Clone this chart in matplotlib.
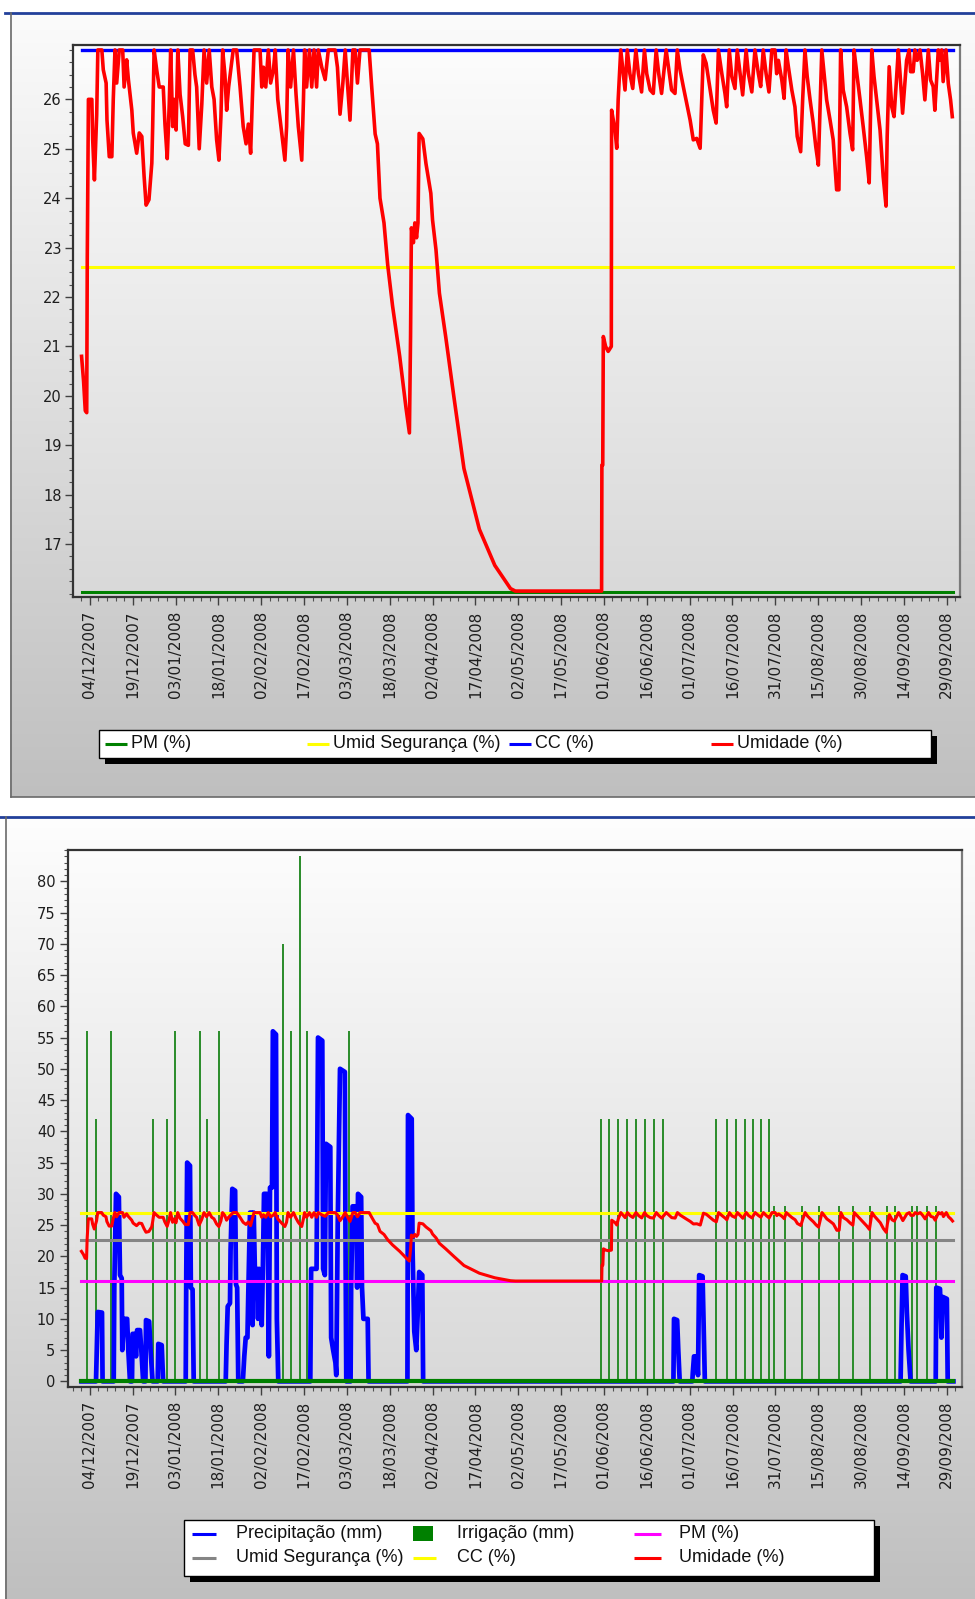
import matplotlib

matplotlib.use("Agg")
import matplotlib.pyplot as plt
import numpy as np
import pandas as pd
from matplotlib.patches import Rectangle
from matplotlib.ticker import FixedFormatter, FixedLocator, MultipleLocator

W, H = 975, 1599
START = pd.Timestamp("2007-12-04")

# dias contados a partir de 04/12/2007
SERIES_START, SERIES_END = -2.9, 302.3

umid_days = [
    -2.9, -2.2, -1.6, -1.1, -0.9, -0.5, 0.7, 1.0, 1.6, 2.4, 2.8, 4.2, 4.7, 5.7, 6.0, 6.8, 7.7,
    8.2, 8.8, 9.4, 10.3, 11.5, 12.0, 12.9, 13.5, 14.7, 15.2, 16.4, 17.3, 18.2, 19.0, 19.7,
    20.7, 21.7, 22.0, 22.5, 23.4, 24.3, 25.7, 26.3, 27.1, 27.8, 28.3, 29.0, 29.6, 30.2, 30.8,
    31.6, 32.5, 33.4, 34.5, 35.1, 36.0, 36.8, 37.4, 38.3, 39.2, 40.0, 40.9, 41.8, 42.7, 43.5,
    44.4, 45.2, 45.9, 46.5, 47.3, 47.9, 48.6, 50.2, 51.4, 52.6, 53.7, 54.7, 55.5, 56.3, 56.9,
    57.5, 59.6, 60.2, 60.8, 61.6, 62.5, 63.3, 64.3, 64.9, 65.8, 67.2, 68.3, 68.9, 69.4, 70.3,
    71.3, 72.2, 73.0, 74.2, 74.8, 75.2, 75.9, 76.9, 77.7, 78.5, 79.4, 80.0, 81.2, 82.4, 83.5,
    85.9, 86.7, 87.6, 88.6, 89.4, 90.2, 91.1, 92.1, 92.9, 93.7, 94.6, 97.8, 98.7, 99.9, 100.7,
    101.6, 103.0, 104.3, 106.0, 108.5, 110.7, 111.9, 112.3, 112.6, 113.3, 113.8, 114.4, 114.9,
    115.3, 116.6, 117.7, 119.4, 120.0, 121.2, 122.4, 124.6, 127.5, 131.0, 136.4, 141.8, 147.3,
    149.0, 179.2, 179.3, 179.6, 179.8, 180.6, 181.5, 182.6, 182.7, 183.9, 184.5, 185.0, 185.9,
    186.8, 187.4, 188.2, 189.1, 190.1, 191.2, 192.1, 193.2, 194.2, 195.0, 196.2, 197.3, 198.3,
    199.2, 200.2, 201.8, 202.6, 203.7, 204.9, 205.7, 206.7, 207.8, 209.0, 210.2, 211.3, 212.5,
    213.7, 214.8, 215.8, 217.2, 218.3, 219.3, 220.1, 221.3, 222.4, 223.0, 223.9, 224.8, 225.9,
    226.7, 227.7, 228.6, 229.8, 230.6, 231.8, 232.9, 234.1, 234.9, 235.8, 236.8, 237.8, 238.8,
    239.9, 240.5, 241.1, 242.3, 243.1, 243.8, 244.6, 245.8, 246.9, 247.7, 248.9, 249.6, 250.4,
    251.2, 252.2, 253.3, 254.2, 255.1, 255.7, 256.3, 257.1, 258.0, 259.2, 260.3, 261.5, 262.3,
    262.9, 263.8, 265.0, 266.2, 267.1, 267.6, 268.7, 269.7, 270.8, 272.0, 272.9, 273.8, 274.6,
    275.5, 276.7, 277.8, 278.8, 279.2, 279.9, 280.8, 281.6, 282.3, 283.1, 283.7, 284.6, 285.4,
    286.0, 286.9, 287.4, 288.3, 288.9, 289.7, 290.7, 291.6, 292.4, 293.6, 294.4, 295.3, 295.9,
    297.1, 297.7, 298.3, 298.8, 299.8, 300.6, 301.4, 302.0,
]
umid_vals = [
    20.8, 20.3, 19.7, 19.66, 22.8, 26.0, 26.0, 25.18, 24.37, 25.7, 27.0, 27.0, 26.6, 26.33, 25.58, 24.84, 24.84,
    26.0, 27.0, 26.33, 27.0, 27.0, 26.25, 26.8, 26.4, 25.78, 25.32, 24.91, 25.32, 25.25, 24.44, 23.86,
    23.97, 24.71, 25.45, 27.0, 26.6, 26.25, 26.25, 25.5, 24.8, 25.9, 27.0, 25.45, 26.0, 25.38, 27.0,
    26.1, 25.65, 25.1, 25.07, 27.0, 27.0, 26.5, 26.25, 25.0, 25.9, 27.0, 26.33, 27.0, 26.25, 26.0,
    25.18, 24.77, 25.65, 27.0, 26.5, 25.78, 26.25, 27.0, 27.0, 26.25, 25.45, 25.1, 25.5, 24.91, 26.0,
    27.0, 27.0, 26.25, 26.65, 26.25, 27.0, 26.33, 26.6, 27.0, 26.0, 25.32, 24.77, 25.45, 27.0, 26.25,
    27.0, 26.1, 25.45, 24.77, 26.0, 27.0, 26.25, 27.0, 26.25, 27.0, 26.25, 27.0, 26.65, 26.4, 27.0,
    27.0, 26.65, 25.7, 26.33, 27.0, 26.33, 25.58, 27.0, 27.0, 26.33, 27.0, 27.0, 26.25, 25.3, 25.1,
    24.0, 23.5, 22.65, 21.82, 20.8, 19.76, 19.25, 21.2, 23.4, 23.1, 23.5, 23.2, 23.5,
    25.31, 25.2, 24.7, 24.1, 23.56, 22.96, 22.08, 21.2, 19.97, 18.53, 17.3, 16.57, 16.1,
    16.05, 16.05, 18.6, 18.6, 21.2, 21.0, 20.9, 21.0, 25.78, 25.38, 25.01, 25.99, 27.0,
    26.52, 26.19, 27.0, 26.52, 26.22, 27.0, 26.52, 26.15, 27.0, 26.52, 26.19, 26.12, 27.0,
    26.52, 26.12, 27.0, 26.66, 26.19, 26.12, 27.0, 26.59, 26.26, 25.92, 25.58, 25.18, 25.21,
    25.01, 26.9, 26.73, 26.19, 25.78, 25.52, 27.0, 26.52, 26.12, 25.85, 27.0, 26.46, 26.22,
    27.0, 26.52, 26.09, 27.0, 26.52, 26.15, 27.0, 26.52, 26.26, 27.0, 26.52, 26.15, 27.0,
    27.0, 26.52, 26.79, 26.39, 26.02, 27.0, 26.66, 26.19, 25.85, 25.25, 24.94, 25.99, 27.0,
    26.46, 25.99, 25.52, 25.04, 24.67, 25.85, 27.0, 26.52, 25.99, 25.58, 25.18, 24.17, 24.17,
    27.0, 26.19, 25.85, 25.31, 24.98, 27.0, 26.46, 25.99, 25.45, 24.84, 24.31, 27.0, 26.46,
    25.99, 25.38, 24.44, 23.84, 25.25, 26.66, 25.85, 25.65, 26.26, 27.0, 26.52, 25.72, 26.32,
    26.79, 27.0, 26.56, 26.56, 27.0, 26.79, 27.0, 26.52, 25.99, 27.0, 26.39, 26.26, 25.78,
    27.0, 26.79, 27.0, 26.36, 27.0, 26.32, 25.99, 25.65,
]

CC_VAL = 27.0
SEGURANCA_VAL = 22.6
PM_VAL = 16.03

prec_days = [
    -2.9, 2.2, 2.5, 2.8, 4.3, 4.5,
    8.4, 8.6, 9.2, 10.2, 10.6, 11.2, 11.4, 12.0, 13.1, 13.5, 14.1, 14.8, 15.0, 15.8, 16.2, 16.6,
    17.6, 18.2, 18.7, 19.5, 19.7, 20.8, 21.3, 22.0, 23.8, 24.0, 25.2, 25.7,
    33.6, 33.8, 34.1, 35.1, 35.4, 36.0, 36.4,
    47.6, 47.9, 48.3, 49.1, 49.3, 49.9, 50.9, 51.2, 51.6, 52.0,
    53.6, 54.1, 54.6, 55.2, 55.5, 56.1, 56.7, 57.0, 57.4, 57.8, 58.5, 58.9, 59.3, 59.8, 60.2,
    60.6, 61.0, 61.9, 62.3, 62.7, 63.1, 63.8, 64.1, 65.2, 65.5, 66.0,
    77.2, 77.5, 79.4, 79.9, 81.4, 81.7, 82.3, 82.7, 84.2, 84.5, 85.2, 86.0, 86.3, 86.8, 87.6,
    89.3, 89.5, 89.8,
    91.3, 91.5, 92.0, 93.3, 93.6, 93.9, 95.0, 95.3, 95.8, 97.3, 97.6,
    111.2, 111.4, 112.7, 113.0, 113.6, 114.3, 114.9, 115.3, 116.4, 116.7,
    204.3, 204.5, 205.6, 206.0, 206.5,
    210.9, 211.1, 211.5, 212.5, 212.9, 213.3, 214.5, 214.9, 215.3,
    283.8, 284.1, 284.5, 285.6, 286.0, 286.6, 287.3,
    296.1, 296.3, 297.6, 298.1, 298.6, 300.0, 300.3, 302.3,
]
prec_vals = [
    0, 0, 5.5, 11.1, 11.0, 0,
    0, 15, 30, 29.5, 17, 16.5, 5, 10, 10, 5, 0, 0, 7.6, 7.6, 4, 8.2,
    8.2, 4, 0, 0, 9.8, 9.6, 5, 0, 0, 6, 5.8, 0,
    0, 17.5, 35, 34.5, 15, 14.7, 0,
    0, 6, 12, 12.5, 21, 30.8, 30.5, 15.5, 15, 0,
    0, 4, 7, 7, 14, 27, 27, 9, 27, 18, 18, 10, 18, 15, 9,
    18, 30, 30, 25, 4, 31, 31, 56, 55.5, 10, 0,
    0, 18, 18, 55, 54.5, 18, 17, 38, 37.5, 7, 5, 3, 1, 25, 50,
    49.5, 25, 0,
    0, 15, 28, 28, 15, 30, 29.5, 15, 10, 10, 0,
    0, 42.6, 42, 21, 8, 5, 12, 17.5, 17, 0,
    0, 10, 9.8, 5, 0,
    0, 1.5, 4, 4, 1, 17, 16.8, 8, 0,
    0, 8, 17, 16.8, 11, 5, 0,
    0, 15, 14.8, 7, 13.5, 13.2, 0, 0,
]

irrig_days = [
    -1.0, 2.1, 7.3, 22.1, 26.9, 29.9, 38.7, 41.1, 45.2, 67.8, 70.3, 73.7, 76.2, 90.9,
    179.0, 181.8, 185.0, 188.0, 191.2, 194.2, 197.5, 200.6,
    219.2, 223.2, 226.2, 229.2, 232.1, 235.0, 237.9,
    239.6, 243.4, 249.2, 255.4, 262.4, 267.3, 273.2, 278.9, 281.9, 287.8, 289.5, 293.0, 296.2,
]
irrig_vals = [
    56, 42, 56, 42, 42, 56, 56, 42, 56, 70, 56, 84, 56, 56,
    42, 42, 42, 42, 42, 42, 42, 42,
    42, 42, 42, 42, 42, 42, 42,
    28, 28, 28, 28, 28, 28, 28, 28, 28, 28, 28, 28, 28,
]

TICK_DAYS = list(range(0, 301, 15))
TICK_LABELS = [(START + pd.Timedelta(days=d)).strftime("%d/%m/%Y") for d in TICK_DAYS]

RED = "#ff0000"
BLUE = "#0000ff"
YELLOW = "#ffff00"
GREEN = "#008000"
IRR_GREEN = "#2e8e2e"
GRAY = "#858585"
MAGENTA = "#ff00ff"
LEG_FONT = ["Liberation Sans", "DejaVu Sans"]


def gradient(bg, x0, y0, x1, y1, top, bottom):
    g = np.linspace(top, bottom, 256)[:, None, None] * np.ones((1, 2, 3))
    bg.imshow(g, extent=(x0, x1, y1, y0), aspect="auto", interpolation="bilinear", zorder=0)


def axes_px(fig, left, top, right, bottom):
    return fig.add_axes([left / W, 1 - bottom / H, (right - left) / W, (bottom - top) / H], zorder=2)


def style_axes(ax, xlim, ylim, yticks, yminor, ypad):
    ax.set_facecolor("none")
    ax.set_xlim(*xlim)
    ax.set_ylim(*ylim)
    ax.xaxis.set_major_locator(FixedLocator(TICK_DAYS))
    ax.xaxis.set_major_formatter(FixedFormatter(TICK_LABELS))
    ax.xaxis.set_minor_locator(MultipleLocator(3))
    ax.set_yticks(yticks)
    ax.yaxis.set_minor_locator(MultipleLocator(yminor))
    ax.tick_params(axis="x", which="major", rotation=90, labelsize=11, length=6, width=1,
                   pad=4, color="#404040", labelcolor="#1e1e1e")
    ax.tick_params(axis="y", which="major", labelsize=10.5, length=6, width=1,
                   pad=ypad, color="#404040", labelcolor="#1e1e1e")
    ax.tick_params(which="minor", length=3, width=0.8, color="#505050")
    for sp in ax.spines.values():
        sp.set_color("#333333")
        sp.set_linewidth(1.6)
    ax.spines["right"].set_color("#7a7a7a")


def legend_box(bg, x, y, w, h):
    bg.add_patch(Rectangle((x + 6, y + 6), w, h, facecolor="black", edgecolor="none", zorder=3))
    bg.add_patch(Rectangle((x, y), w, h, facecolor="white", edgecolor="black", lw=1, zorder=4))


def legend_line(bg, x, y, length, color, label, gap):
    bg.plot([x, x + length], [y, y], color=color, lw=2.2, solid_capstyle="butt", zorder=5)
    bg.text(x + length + gap, y, label, va="center", ha="left", fontsize=13,
            family=LEG_FONT, color="#111111", zorder=5)


fig = plt.figure(figsize=(W / 100, H / 100), dpi=100)
fig.patch.set_facecolor("white")
bg = fig.add_axes([0, 0, 1, 1], zorder=0)

# fundos em degradê dos dois painéis e das áreas de plotagem
gradient(bg, 10, 13, W, 797, 0.985, 0.75)
gradient(bg, 5, 817, W, H, 0.995, 0.75)
gradient(bg, 73, 45, 960, 597, 0.99, 0.85)
gradient(bg, 68, 850, 962, 1387, 0.99, 0.85)
bg.plot([5, W], [12.5, 12.5], color="#22409a", lw=2, zorder=2)
bg.plot([11, 11], [13, 797], color="#6a6a6a", lw=1.2, zorder=2)
bg.plot([11, W], [796.5, 796.5], color="#6a6a6a", lw=1.2, zorder=2)
bg.plot([0, W], [816.5, 816.5], color="#22409a", lw=2, zorder=2)
bg.plot([6, 6], [817, H], color="#6a6a6a", lw=1.2, zorder=2)

# legenda do gráfico superior
legend_box(bg, 99, 730, 832, 28)
top_items = [("PM (%)", GREEN), ("Umid Segurança (%)", YELLOW), ("CC (%)", BLUE), ("Umidade (%)", RED)]
for i, (label, color) in enumerate(top_items):
    legend_line(bg, 105 + 202 * i, 744, 22, color, label, 4)

# legenda do gráfico inferior
legend_box(bg, 184, 1520, 690, 56)
legend_line(bg, 192, 1534, 24, BLUE, "Precipitação (mm)", 20)
legend_line(bg, 192, 1557.5, 24, GRAY, "Umid Segurança (%)", 20)
bg.add_patch(Rectangle((413, 1526), 20, 15, facecolor=GREEN, edgecolor="none", zorder=5))
bg.text(457, 1534, "Irrigação (mm)", va="center", ha="left", fontsize=13, family=LEG_FONT,
        color="#111111", zorder=5)
legend_line(bg, 413, 1557.5, 23, YELLOW, "CC (%)", 21)
legend_line(bg, 634, 1534, 27, MAGENTA, "PM (%)", 18)
legend_line(bg, 634, 1557.5, 27, RED, "Umidade (%)", 18)

bg.set_xlim(0, W)
bg.set_ylim(H, 0)
bg.axis("off")

span = [SERIES_START, SERIES_END]

# gráfico superior
ax1 = axes_px(fig, 73, 45, 960, 597)
ax1.plot(span, [PM_VAL] * 2, color=GREEN, lw=2.2, zorder=3)
ax1.plot(span, [SEGURANCA_VAL] * 2, color=YELLOW, lw=2.2, zorder=3)
ax1.plot(span, [CC_VAL] * 2, color=BLUE, lw=2.4, zorder=4)
ax1.plot(umid_days, umid_vals, color=RED, lw=2.6, zorder=5)
style_axes(ax1, (-5.9, 304.7), (15.93, 27.1), list(range(17, 27)), 0.25, 2)

# gráfico inferior
ax2 = axes_px(fig, 68, 850, 962, 1387)
ax2.bar(irrig_days, irrig_vals, width=0.7, color=IRR_GREEN, linewidth=0, zorder=2)
ax2.plot(prec_days, prec_vals, color=BLUE, lw=3.4, zorder=3)
ax2.plot(span, [0, 0], color=GREEN, lw=3.0, zorder=4)
ax2.plot(span, [SEGURANCA_VAL] * 2, color=GRAY, lw=2.2, zorder=5)
ax2.plot(span, [PM_VAL] * 2, color=MAGENTA, lw=2.2, zorder=5)
ax2.plot(span, [CC_VAL] * 2, color=YELLOW, lw=2.2, zorder=5)
ax2.plot(umid_days, umid_vals, color=RED, lw=2.2, zorder=6)
style_axes(ax2, (-7.6, 305.3), (-0.9, 85), list(range(0, 81, 5)), 1, 3)

fig.savefig("out.png", dpi=100)
